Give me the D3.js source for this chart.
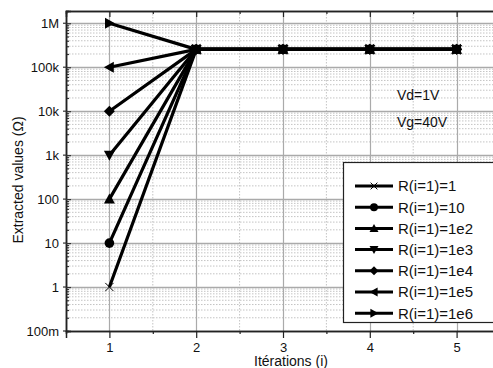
<!DOCTYPE html>
<html>
<head>
<meta charset="utf-8">
<script src="https://cdn.jsdelivr.net/npm/d3@7"></script>
<style>
  html, body { margin: 0; padding: 0; background: #fff; }
  svg { display: block; }
  svg text { font-family: "Liberation Sans", Arial, sans-serif; }
</style>
</head>
<body>
<svg id="chart" width="493" height="368"></svg>
<script>
// Iteration index along the x axis
const iterations = [1, 2, 3, 4, 5];

// Extracted resistance per iteration, one array per starting value R(i=1)
const seriesR1   = [1,   2.55e5, 2.55e5, 2.55e5, 2.55e5];
const seriesR10  = [10,  2.55e5, 2.55e5, 2.55e5, 2.55e5];
const seriesR1e2 = [1e2, 2.55e5, 2.55e5, 2.55e5, 2.55e5];
const seriesR1e3 = [1e3, 2.55e5, 2.55e5, 2.55e5, 2.55e5];
const seriesR1e4 = [1e4, 2.55e5, 2.55e5, 2.55e5, 2.55e5];
const seriesR1e5 = [1e5, 2.55e5, 2.55e5, 2.55e5, 2.55e5];
const seriesR1e6 = [1e6, 2.55e5, 2.55e5, 2.55e5, 2.55e5];

const seriesNames = ["R(i=1)=1", "R(i=1)=10", "R(i=1)=1e2", "R(i=1)=1e3",
                     "R(i=1)=1e4", "R(i=1)=1e5", "R(i=1)=1e6"];
const seriesMarkers = ["cross", "circle", "triUp", "triDown", "diamond", "triLeft", "triRight"];

const yTickValues = [1e-1, 1, 10, 100, 1e3, 1e4, 1e5, 1e6];
const yTickLabels = ["100m", "1", "10", "100", "1k", "10k", "100k", "1M"];

const annotations = ["Vd=1V", "Vg=40V"];

const allSeries = [seriesR1, seriesR10, seriesR1e2, seriesR1e3, seriesR1e4, seriesR1e5, seriesR1e6];

const FONT = "Liberation Sans, Arial, sans-serif";
const svg = d3.select("#chart");
const L = 66, T = 11, R = 500, B = 331;

const x = d3.scaleLinear().domain([0.5, 5.5]).range([L, R]);
const y = d3.scaleLog().domain([0.1, 1.9e6]).range([B, T]);

const g = svg.append("g");

// Minor log grid (dotted)
const minorY = [];
for (let e = -1; e <= 6; e++) for (let m = 2; m <= 9; m++) {
  const v = m * Math.pow(10, e);
  if (v < y.domain()[1]) minorY.push(v);
}
g.selectAll(".ym").data(minorY).enter().append("line")
  .attr("x1", L).attr("x2", R).attr("y1", d => y(d)).attr("y2", d => y(d))
  .attr("stroke", "#c4c4c4").attr("stroke-width", 1).attr("stroke-dasharray", "1.5,1.5");

// Minor x grid at half-steps (dotted)
const minorX = [1.5, 2.5, 3.5, 4.5];
g.selectAll(".xm").data(minorX).enter().append("line")
  .attr("x1", d => x(d)).attr("x2", d => x(d)).attr("y1", T).attr("y2", B)
  .attr("stroke", "#c4c4c4").attr("stroke-width", 1).attr("stroke-dasharray", "1.5,1.5");

// Major grid
g.selectAll(".yM").data(yTickValues.slice(1)).enter().append("line")
  .attr("x1", L).attr("x2", R).attr("y1", d => Math.round(y(d)) + 0.5).attr("y2", d => Math.round(y(d)) + 0.5)
  .attr("stroke", "#aaaaaa").attr("stroke-width", 1.5);
g.selectAll(".xM").data(iterations).enter().append("line")
  .attr("x1", d => Math.round(x(d)) + 0.5).attr("x2", d => Math.round(x(d)) + 0.5).attr("y1", T).attr("y2", B)
  .attr("stroke", "#aaaaaa").attr("stroke-width", 1.2);

// Axes
const yAxisMajor = d3.axisRight(y).tickValues(yTickValues).tickSize(5).tickFormat("");
const yAxisMinor = d3.axisRight(y).tickValues(minorY).tickSize(3).tickFormat("");
const gy = svg.append("g").attr("transform", `translate(${L},0)`);
gy.call(yAxisMinor);
gy.append("g").call(yAxisMajor);
gy.selectAll("line").attr("stroke", "#333").attr("stroke-width", 1.2);
gy.selectAll(".domain").attr("stroke", "#222").attr("stroke-width", 1.5);
// short outward stubs on major ticks
gy.selectAll(".stub").data(yTickValues).enter().append("line")
  .attr("x1", -3).attr("x2", 0).attr("y1", d => y(d)).attr("y2", d => y(d))
  .attr("stroke", "#333").attr("stroke-width", 1.2);
gy.selectAll(".lab").data(yTickValues).enter().append("text")
  .attr("x", -7).attr("y", d => y(d)).attr("dy", "0.35em")
  .attr("text-anchor", "end").attr("font-size", 13).attr("font-family", FONT).attr("fill", "#111")
  .text((d, i) => yTickLabels[i]);

const gxb = svg.append("g").attr("transform", `translate(0,${B})`);
gxb.call(d3.axisBottom(x).tickValues(minorX).tickSize(3).tickFormat(""));
gxb.append("g").call(d3.axisBottom(x).tickValues(iterations).tickSize(7).tickFormat(d3.format("d")));
gxb.selectAll("line").attr("stroke", "#222").attr("stroke-width", 1.2);
gxb.selectAll(".domain").attr("stroke", "#222").attr("stroke-width", 1.5);
gxb.selectAll("text").attr("font-size", 13).attr("fill", "#111").attr("font-family", FONT).attr("dy", "0.82em");

const gxt = svg.append("g").attr("transform", `translate(0,${T})`);
gxt.call(d3.axisBottom(x).tickValues(minorX).tickSize(3).tickFormat(""));
gxt.append("g").call(d3.axisBottom(x).tickValues(iterations).tickSize(6).tickFormat(""));
gxt.selectAll("line").attr("stroke", "#222").attr("stroke-width", 1.2);
gxt.selectAll(".domain").attr("stroke", "#222").attr("stroke-width", 1.5);

// Axis titles
svg.append("text").attr("transform", "translate(23,180) rotate(-90)")
  .attr("text-anchor", "middle").attr("font-size", 14).attr("font-family", FONT).attr("fill", "#111")
  .text("Extracted values (Ω)");
svg.append("text").attr("x", 291).attr("y", 365.5)
  .attr("text-anchor", "middle").attr("font-size", 14).attr("font-family", FONT).attr("fill", "#111")
  .text("Itérations (i)");

// Marker shapes
function marker(sel, type, cx, cy, s) {
  if (type === "cross") {
    const c = s * 0.75;
    sel.append("path").attr("d", `M${cx-c},${cy-c}L${cx+c},${cy+c}M${cx-c},${cy+c}L${cx+c},${cy-c}`)
      .attr("stroke", "#000").attr("stroke-width", 1).attr("fill", "none");
    return;
  }
  let d;
  if (type === "circle") {
    sel.append("circle").attr("cx", cx).attr("cy", cy).attr("r", s * 0.88).attr("fill", "#000");
    return;
  }
  if (type === "triUp") d = `M${cx},${cy-s}L${cx+s},${cy+s*0.8}L${cx-s},${cy+s*0.8}Z`;
  if (type === "triDown") d = `M${cx},${cy+s}L${cx+s},${cy-s*0.8}L${cx-s},${cy-s*0.8}Z`;
  if (type === "diamond") d = `M${cx},${cy-s}L${cx+s},${cy}L${cx},${cy+s}L${cx-s},${cy}Z`;
  if (type === "triLeft") d = `M${cx-s},${cy}L${cx+s*0.8},${cy-s}L${cx+s*0.8},${cy+s}Z`;
  if (type === "triRight") d = `M${cx+s},${cy}L${cx-s*0.8},${cy-s}L${cx-s*0.8},${cy+s}Z`;
  sel.append("path").attr("d", d).attr("fill", "#000");
}

// Series lines and markers (last series first so the low starts sit on top)
const line = d3.line().x((d, i) => x(iterations[i])).y(d => y(d));
const gs = svg.append("g");
for (let k = allSeries.length - 1; k >= 0; k--) {
  const vals = allSeries[k];
  gs.append("path").datum(vals).attr("d", line)
    .attr("fill", "none").attr("stroke", "#000").attr("stroke-width", 3.2)
    .attr("stroke-linejoin", "round");
  vals.forEach((v, i) => marker(gs, seriesMarkers[k], x(iterations[i]), y(v), 5.5));
}

// Condition annotations
svg.selectAll(".ann").data(annotations).enter().append("text")
  .attr("x", 397).attr("y", (d, i) => 100 + i * 27)
  .attr("font-size", 14).attr("font-family", FONT).attr("fill", "#111").text(d => d);

// Legend
const lg = svg.append("g");
lg.append("rect").attr("x", 343.5).attr("y", 162.5).attr("width", 160).attr("height", 160)
  .attr("fill", "#fff").attr("stroke", "#222").attr("stroke-width", 1.2);
seriesNames.forEach((name, k) => {
  const ly = 186 + k * 21.2;
  lg.append("line").attr("x1", 355).attr("x2", 393).attr("y1", ly).attr("y2", ly)
    .attr("stroke", "#000").attr("stroke-width", 3);
  marker(lg, seriesMarkers[k], 374, ly, 4.5);
  lg.append("text").attr("x", 398).attr("y", ly).attr("dy", "0.36em")
    .attr("font-size", 15).attr("font-family", FONT).attr("fill", "#111").text(name);
});
</script>
</body>
</html>
